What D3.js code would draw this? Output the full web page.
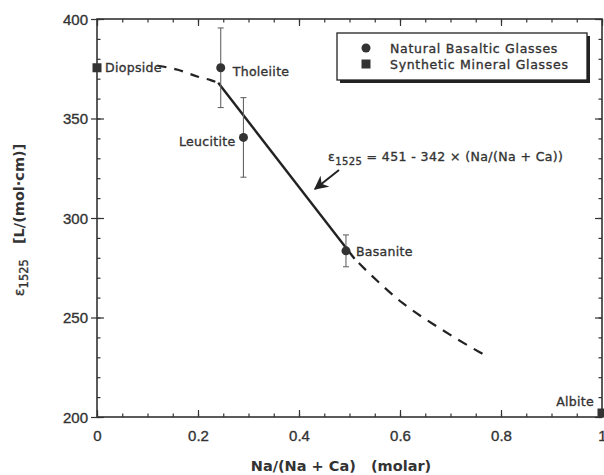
<!DOCTYPE html>
<html>
<head>
<meta charset="utf-8">
<script src="https://cdn.jsdelivr.net/npm/d3@7"></script>
<style>
  html, body { margin: 0; padding: 0; background: #fff; }
  svg { display: block; font-family: "DejaVu Sans", Verdana, sans-serif; }
  .axis path, .axis line { stroke: #333; }
  .axis text { fill: #333; }
  .ink { stroke: #333; stroke-width: 0.35px; }
</style>
</head>
<body>
<svg id="chart" width="604" height="475"></svg>
<script>
// ---- data ----
const basalts = [            // natural basaltic glasses: [x, eps, err, label]
  [0.245, 375.5, 20, 'Tholeiite'],
  [0.290, 340.5, 20, 'Leucitite'],
  [0.493, 283.5, 8, 'Basanite'],
];
const minerals = [           // synthetic mineral glasses
  [0.0, 375.5, 'Diopside'],
  [1.0, 202, 'Albite'],
];
const fitLine = [[0.24, 368], [0.51, 279.5]];
const leftDash = [[0.12, 376.5], [0.16, 374.5], [0.20, 371], [0.225, 369.3], [0.24, 368]];
const rightDash = [[0.51, 279.5], [0.54, 272], [0.605, 257.3], [0.678, 244.7], [0.757, 232.7], [0.767, 231.3]];
const xTicks = [0, 0.2, 0.4, 0.6, 0.8, 1];
const xMinor = d3.range(0, 1.0001, 0.05);
const yTicks = [200, 250, 300, 350, 400];
const yMinor = d3.range(200, 400.1, 10);

const svg = d3.select('#chart');
const x = d3.scaleLinear().domain([0, 1]).range([97, 602]);
const y = d3.scaleLinear().domain([200, 400]).range([417, 19]);

// ---- axes ----
function ax(gen, tx, ty) {
  const g = svg.append('g').attr('class', 'axis')
    .attr('transform', `translate(${tx},${ty})`).call(gen);
  g.select('.domain').remove();
  g.selectAll('line').attr('stroke-width', 1.2);
  return g;
}
const noLab = () => '';

// left: labelled majors crossing the line, minors inward
ax(d3.axisLeft(y).tickValues(yTicks).tickSize(6).tickPadding(3), x(0), 0)
  .selectAll('text').attr('font-size', 15).attr('dy', '0.36em').attr('class', 'ink');
ax(d3.axisRight(y).tickValues(yTicks).tickSize(7).tickFormat(noLab), x(0), 0);
ax(d3.axisRight(y).tickValues(yMinor).tickSize(3.5).tickFormat(noLab), x(0), 0);
// right
ax(d3.axisLeft(y).tickValues(yTicks).tickSize(7).tickFormat(noLab), x(1), 0);
ax(d3.axisLeft(y).tickValues(yMinor).tickSize(3.5).tickFormat(noLab), x(1), 0);
// bottom
ax(d3.axisBottom(x).tickValues(xTicks).tickSize(0).tickPadding(13)
  .tickFormat(d => d === 0 || d === 1 ? d3.format('d')(d) : d3.format('.1f')(d)), 0, y(200))
  .selectAll('text').attr('font-size', 15).attr('class', 'ink');
ax(d3.axisTop(x).tickValues(xTicks).tickSize(7).tickFormat(noLab), 0, y(200));
ax(d3.axisTop(x).tickValues(xMinor).tickSize(3.5).tickFormat(noLab), 0, y(200));
// top
ax(d3.axisBottom(x).tickValues(xTicks).tickSize(7).tickFormat(noLab), 0, y(400));
ax(d3.axisBottom(x).tickValues(xMinor).tickSize(3.5).tickFormat(noLab), 0, y(400));

// frame
svg.append('rect')
  .attr('x', x(0)).attr('y', y(400))
  .attr('width', x(1) - x(0)).attr('height', y(200) - y(400))
  .attr('fill', 'none').attr('stroke', '#333').attr('stroke-width', 1.6);

// ---- axis titles ----
svg.append('text')
  .attr('x', 341).attr('y', 471).attr('text-anchor', 'middle')
  .attr('font-size', 14.5).attr('font-weight', 'bold').attr('fill', '#333')
  .attr('xml:space', 'preserve')
  .text('Na/(Na + Ca)   (molar)');

const yl = svg.append('text')
  .attr('transform', 'translate(24,220) rotate(-90)')
  .attr('text-anchor', 'middle')
  .attr('font-size', 14.5).attr('font-weight', 'bold').attr('fill', '#333')
  .attr('xml:space', 'preserve');
yl.append('tspan').attr('font-weight', 'normal').attr('class', 'ink').text('ε');
yl.append('tspan').attr('font-size', 11.5).attr('font-weight', 'normal').attr('class', 'ink').attr('dy', 4).text('1525');
yl.append('tspan').attr('dy', -4).text('   [L/(mol·cm)]');

// ---- curves ----
const line = d3.line().x(d => x(d[0])).y(d => y(d[1])).curve(d3.curveMonotoneX);
svg.append('path').datum(leftDash).attr('d', line)
  .attr('fill', 'none').attr('stroke', '#222').attr('stroke-width', 2.2)
  .attr('stroke-dasharray', '9,8');
svg.append('path').datum(rightDash).attr('d', line)
  .attr('fill', 'none').attr('stroke', '#222').attr('stroke-width', 2.2)
  .attr('stroke-dasharray', '10,8').attr('stroke-dashoffset', -6);
svg.append('path').datum(fitLine).attr('d', line)
  .attr('fill', 'none').attr('stroke', '#222').attr('stroke-width', 2.4);

// ---- error bars ----
const eb = svg.append('g').attr('stroke', '#666').attr('stroke-width', 1.1);
basalts.forEach(d => {
  const cx = x(d[0]);
  eb.append('line').attr('x1', cx).attr('x2', cx).attr('y1', y(d[1] - d[2])).attr('y2', y(d[1] + d[2]));
  [d[1] - d[2], d[1] + d[2]].forEach(v =>
    eb.append('line').attr('x1', cx - 3).attr('x2', cx + 3).attr('y1', y(v)).attr('y2', y(v)));
});

// ---- points ----
svg.append('g').selectAll('circle').data(basalts).join('circle')
  .attr('cx', d => x(d[0])).attr('cy', d => y(d[1])).attr('r', 4.5)
  .attr('fill', '#333');
svg.append('g').selectAll('rect').data(minerals).join('rect')
  .attr('x', d => x(d[0]) - 4.5).attr('y', d => y(d[1]) - 4.5)
  .attr('width', 9).attr('height', 9).attr('fill', '#333');

// ---- point labels ----
const labelPos = {
  Tholeiite: [12, 4, 'start'],
  Leucitite: [-8, 4, 'end'],
  Basanite: [10, 1, 'start'],
  Diopside: [8, 0, 'start'],
  Albite: [-8, -11, 'end'],
};
const labs = basalts.map(d => [d[0], d[1], d[3]]).concat(minerals);
svg.append('g').selectAll('text').data(labs).join('text')
  .attr('class', 'ink')
  .attr('x', d => x(d[0]) + labelPos[d[2]][0])
  .attr('y', d => y(d[1]) + labelPos[d[2]][1])
  .attr('dy', '0.35em')
  .attr('text-anchor', d => labelPos[d[2]][2])
  .attr('font-size', 12.5).attr('fill', '#333')
  .attr('letter-spacing', 0.3)
  .text(d => d[2]);

// ---- equation + arrow ----
const eq = svg.append('text').attr('x', 328).attr('y', 161).attr('class', 'ink')
  .attr('font-size', 12.5).attr('fill', '#333').attr('letter-spacing', 0.4);
eq.append('tspan').text('ε');
eq.append('tspan').attr('font-size', 10).attr('dy', 4).text('1525');
eq.append('tspan').attr('dy', -4).text(' = 451 - 342 × (Na/(Na + Ca))');

svg.append('defs').append('marker')
  .attr('id', 'ah').attr('viewBox', '0 0 10 10').attr('refX', 9).attr('refY', 5)
  .attr('markerWidth', 7).attr('markerHeight', 7).attr('orient', 'auto')
  .append('path').attr('d', 'M0,0L10,5L0,10L3,5Z').attr('fill', '#222');
svg.append('line').attr('x1', 339).attr('y1', 170).attr('x2', 315).attr('y2', 189)
  .attr('stroke', '#222').attr('stroke-width', 2).attr('marker-end', 'url(#ah)');

// ---- legend ----
const lg = svg.append('g').attr('transform', 'translate(337,33)');
lg.append('rect').attr('x', 3).attr('y', 3).attr('width', 250).attr('height', 47).attr('fill', '#222');
lg.append('rect').attr('width', 250).attr('height', 47)
  .attr('fill', '#fff').attr('stroke', '#222').attr('stroke-width', 1.3);
lg.append('circle').attr('cx', 29).attr('cy', 15).attr('r', 4.5).attr('fill', '#333');
lg.append('rect').attr('x', 24.5).attr('y', 26.5).attr('width', 9).attr('height', 9).attr('fill', '#333');
lg.selectAll('text.lt').data(['Natural Basaltic Glasses', 'Synthetic Mineral Glasses']).join('text')
  .attr('class', 'ink')
  .attr('x', 53).attr('y', (d, i) => 15 + i * 16).attr('dy', '0.36em')
  .attr('font-size', 12.5).attr('fill', '#333').attr('letter-spacing', 0.7)
  .text(d => d);
</script>
</body>
</html>
